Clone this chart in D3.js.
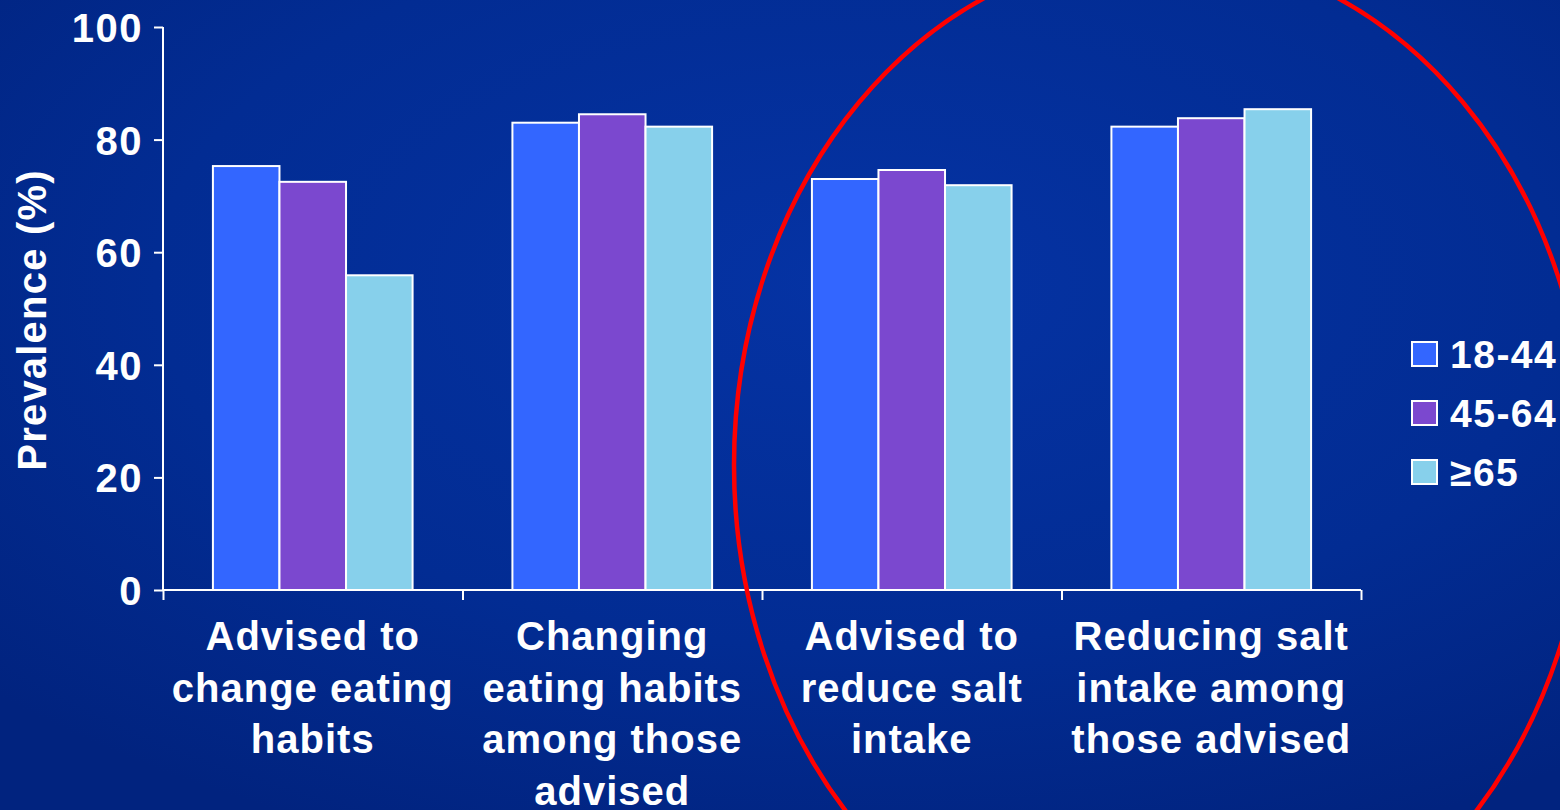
<!DOCTYPE html>
<html>
<head>
<meta charset="utf-8">
<script src="https://cdn.jsdelivr.net/npm/d3@7"></script>
<style>
  html, body { margin: 0; padding: 0; background: #012a8e; overflow: hidden; }
  svg { display: block; }
  text { font-family: "Liberation Sans", Arial, sans-serif; font-weight: bold; fill: #ffffff; }
</style>
</head>
<body>
<svg id="chart" width="1560" height="810"></svg>
<script>
const categories = [
  ["Advised to", "change eating", "habits"],
  ["Changing", "eating habits", "among those", "advised"],
  ["Advised to", "reduce salt", "intake"],
  ["Reducing salt", "intake among", "those advised"]
];
const seriesNames = ["18-44", "45-64", "\u226565"];
const values18_44 = [75.3, 83.0, 73.0, 82.3];
const values45_64 = [72.5, 84.5, 74.6, 83.8];
const values65plus = [55.9, 82.3, 71.9, 85.4];
const yTicks = [0, 20, 40, 60, 80, 100];
const seriesColors = ["#3366ff", "#7b48cf", "#87d0eb"];

(function () {
const seriesValues = [values18_44, values45_64, values65plus];
const W = 1560, H = 810;
const svg = d3.select("#chart");

// background
const defs = svg.append("defs");
const rg = defs.append("radialGradient").attr("id", "bg")
  .attr("cx", "0.55").attr("cy", "0.35").attr("r", "0.75");
rg.append("stop").attr("offset", "0%").attr("stop-color", "#0533a4");
rg.append("stop").attr("offset", "60%").attr("stop-color", "#022c93");
rg.append("stop").attr("offset", "100%").attr("stop-color", "#01237f");
svg.append("rect").attr("width", W).attr("height", H).attr("fill", "url(#bg)");

const mLeft = 163, mRight = 1361, mTop = 27, mBottom = 590;
const catIdx = categories.map((d, i) => i);
const x0 = d3.scaleBand().domain(catIdx).range([mLeft, mRight]).paddingInner(0).paddingOuter(0);
const bw = x0.bandwidth();
const x1 = d3.scaleBand().domain(seriesNames).range([bw / 6, bw * 5 / 6]).padding(0);
const y = d3.scaleLinear().domain([0, 100]).range([mBottom, mTop]);

// bars
const groups = svg.append("g").selectAll("g").data(catIdx).join("g")
  .attr("transform", i => `translate(${x0(i)},0)`);
groups.selectAll("rect")
  .data(i => seriesNames.map((s, k) => ({ s, k, v: seriesValues[k][i] })))
  .join("rect")
  .attr("x", d => x1(d.s))
  .attr("y", d => y(d.v))
  .attr("width", x1.bandwidth())
  .attr("height", d => y(0) - y(d.v))
  .attr("fill", d => seriesColors[d.k])
  .attr("stroke", "#ffffff")
  .attr("stroke-width", 2);

// y axis
const yAxis = svg.append("g").attr("transform", `translate(${mLeft},0)`)
  .call(d3.axisLeft(y).tickValues(yTicks).tickSize(9).tickPadding(11).tickFormat(d3.format("d")));
yAxis.select(".domain").attr("stroke", "#fff").attr("stroke-width", 2)
  .attr("d", `M0,${mTop}V${mBottom}`);
yAxis.selectAll(".tick line").attr("stroke", "#fff").attr("stroke-width", 2);
yAxis.selectAll(".tick text").attr("fill", "#fff").style("font-size", "40px")
  .style("font-family", "'Liberation Sans', Arial, sans-serif").style("font-weight", "bold")
  .style("letter-spacing", "1.5px")
  .attr("dy", "0.36em");

// x axis
const xTickVals = catIdx.map(i => x0(i)).concat([mRight]);
const xScaleLin = d3.scaleLinear().domain([mLeft, mRight]).range([mLeft, mRight]);
const xAxis = svg.append("g").attr("transform", `translate(0,${mBottom})`)
  .call(d3.axisBottom(xScaleLin).tickValues(xTickVals).tickSize(10).tickFormat(""));
xAxis.select(".domain").attr("stroke", "#fff").attr("stroke-width", 2)
  .attr("d", `M${mLeft},0H${mRight}`);
xAxis.selectAll(".tick line").attr("stroke", "#fff").attr("stroke-width", 2);

// category labels
const catLabels = svg.append("g");
categories.forEach((lines, i) => {
  const t = catLabels.append("text")
    .attr("x", x0(i) + bw / 2)
    .attr("y", 650)
    .attr("text-anchor", "middle")
    .style("font-size", "40px")
    .style("letter-spacing", "1px");
  lines.forEach((ln, j) => {
    t.append("tspan").attr("x", x0(i) + bw / 2).attr("y", 650 + j * 51.7).text(ln);
  });
});

// y title
svg.append("text")
  .attr("transform", `translate(46,320) rotate(-90)`)
  .attr("text-anchor", "middle")
  .style("font-size", "40px")
  .style("letter-spacing", "1.2px")
  .text("Prevalence (%)");

// legend
const legend = svg.append("g").attr("transform", "translate(1412,342)");
seriesNames.forEach((s, k) => {
  const g = legend.append("g").attr("transform", `translate(0,${k * 59})`);
  g.append("rect").attr("width", 25).attr("height", 24)
    .attr("fill", seriesColors[k]).attr("stroke", "#fff").attr("stroke-width", 2);
  g.append("text").attr("x", 38).attr("y", 12).attr("dy", "0.36em")
    .style("font-size", "39px").style("letter-spacing", "1.5px").text(s);
});

// red ellipse annotation
svg.append("ellipse")
  .attr("cx", 1161).attr("cy", 465).attr("rx", 427).attr("ry", 513)
  .attr("fill", "none").attr("stroke", "#ff0000").attr("stroke-width", 4.5);
})();
</script>
</body>
</html>
